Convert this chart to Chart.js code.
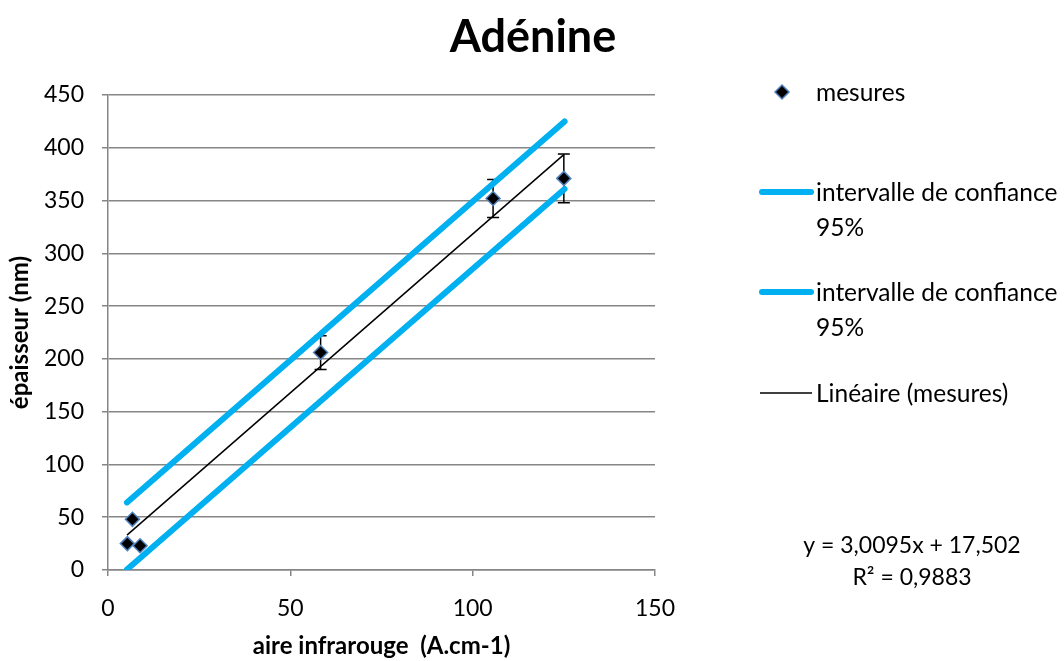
<!DOCTYPE html>
<html>
<head>
<meta charset="utf-8">
<script src="https://cdn.jsdelivr.net/npm/chart.js@4"></script>
<style>
  html, body { margin: 0; background: #fff; }
</style>
</head>
<body>
<canvas id="chart" width="1064" height="661"></canvas>
<script>
// valeurs
const mesuresX = [5.3, 6.7, 8.8, 58.3, 105.6, 125.0];
const mesuresY = [25, 48, 23, 206, 352, 371];
const erreurs = [0, 0, 0, 16, 18, 23];

const icHautX = [5.2, 125.2];
const icHautY = [64, 425];
const icBasX = [5.2, 125.2];
const icBasY = [0.5, 361];

const lineaireX = [5.2, 125.0];
const lineaireY = [33, 393.5];

const xTicks = [0, 50, 100, 150];
const yTicks = [0, 50, 100, 150, 200, 250, 300, 350, 400, 450];

const titre = 'Adénine';
const legendes = ['mesures', 'intervalle de confiance 95%', 'intervalle de confiance 95%', 'Linéaire (mesures)'];
const equation = 'y = 3,0095x + 17,502';
const r2 = 'R² = 0,9883';

const BLEU = '#00b0f0';
const GRIS = '#868686';
const FONT = 'Lato, Carlito, Calibri, sans-serif';

Chart.defaults.font.family = FONT;
Chart.defaults.color = '#000';

const pts = (xs, ys) => xs.map((x, i) => ({ x: x, y: ys[i] }));

// barres d'erreur verticales
const errorBars = {
  id: 'errorBars',
  beforeDatasetsDraw(chart) {
    const ctx = chart.ctx;
    const xs = chart.scales.x, ys = chart.scales.y;
    ctx.save();
    ctx.strokeStyle = '#000';
    ctx.lineWidth = 1.5;
    mesuresX.forEach((x, i) => {
      if (!erreurs[i]) return;
      const px = xs.getPixelForValue(x);
      const top = ys.getPixelForValue(mesuresY[i] + erreurs[i]);
      const bot = ys.getPixelForValue(mesuresY[i] - erreurs[i]);
      ctx.beginPath();
      ctx.moveTo(px, top); ctx.lineTo(px, bot);
      ctx.moveTo(px - 6, top); ctx.lineTo(px + 6, top);
      ctx.moveTo(px - 6, bot); ctx.lineTo(px + 6, bot);
      ctx.stroke();
    });
    ctx.restore();
  }
};

// titre, légende et équation
const decor = {
  id: 'decor',
  afterDraw(chart) {
    const ctx = chart.ctx;
    ctx.save();
    ctx.fillStyle = '#000';
    ctx.textBaseline = 'middle';
    ctx.textAlign = 'center';
    ctx.font = 'bold 45px ' + FONT;
    ctx.fillText(titre, 533, 37);

    ctx.font = '24.5px ' + FONT;
    ctx.textAlign = 'left';
    // mesures
    ctx.beginPath();
    ctx.moveTo(782, 85); ctx.lineTo(789, 92); ctx.lineTo(782, 99); ctx.lineTo(775, 92); ctx.closePath();
    ctx.fillStyle = '#000'; ctx.fill();
    ctx.strokeStyle = '#4f81bd'; ctx.lineWidth = 1.5; ctx.stroke();
    ctx.fillText(legendes[0], 816, 93);
    // intervalles
    [192, 292].forEach((y, k) => {
      ctx.beginPath();
      ctx.strokeStyle = BLEU; ctx.lineWidth = 6; ctx.lineCap = 'round';
      ctx.moveTo(762, y); ctx.lineTo(811, y); ctx.stroke();
      ctx.fillText('intervalle de confiance', 816, y + 1);
      ctx.fillText('95%', 816, y + 36);
    });
    // linéaire
    ctx.beginPath();
    ctx.strokeStyle = '#000'; ctx.lineWidth = 1.5; ctx.lineCap = 'butt';
    ctx.moveTo(760, 393); ctx.lineTo(812, 393); ctx.stroke();
    ctx.fillText(legendes[3], 816, 394);

    ctx.font = '23px ' + FONT;
    ctx.textAlign = 'center';
    ctx.fillText(equation, 912, 546);
    ctx.fillText(r2, 912, 578);
    ctx.restore();
  }
};

new Chart(document.getElementById('chart').getContext('2d'), {
  type: 'scatter',
  data: {
    datasets: [
      {
        label: legendes[0],
        data: pts(mesuresX, mesuresY),
        pointStyle: 'rectRot',
        pointRadius: 7,
        backgroundColor: '#000',
        borderColor: '#4f81bd',
        borderWidth: 1.5,
        showLine: false,
        order: 0
      },
      {
        label: legendes[1],
        data: pts(icHautX, icHautY),
        showLine: true,
        borderColor: BLEU,
        borderWidth: 6,
        borderCapStyle: 'round',
        pointRadius: 0,
        order: 2
      },
      {
        label: legendes[2],
        data: pts(icBasX, icBasY),
        showLine: true,
        borderColor: BLEU,
        borderWidth: 6,
        borderCapStyle: 'round',
        pointRadius: 0,
        order: 2
      },
      {
        label: legendes[3],
        data: pts(lineaireX, lineaireY),
        showLine: true,
        borderColor: '#000',
        borderWidth: 1.5,
        pointRadius: 0,
        order: 1
      }
    ]
  },
  options: {
    responsive: false,
    animation: false,
    layout: { padding: { top: 95, right: 409, bottom: 0, left: 0 } },
    plugins: {
      legend: { display: false },
      tooltip: { enabled: false }
    },
    scales: {
      x: {
        type: 'linear',
        min: 0, max: 150,
        afterFit(scale) { scale.height = 91; },
        afterBuildTicks(scale) { scale.ticks = xTicks.map(v => ({ value: v })); },
        ticks: { font: { size: 23 }, padding: 19 },
        grid: { drawOnChartArea: false, drawTicks: true, tickLength: 6, color: GRIS, lineWidth: 1.5 },
        border: { color: GRIS, width: 1.5 },
        title: { display: true, text: 'aire infrarouge  (A.cm-1)', font: { size: 24, weight: 'bold' }, padding: { top: 0, bottom: 0 } }
      },
      y: {
        min: 0, max: 450,
        afterFit(scale) { scale.width = 108; },
        afterBuildTicks(scale) { scale.ticks = yTicks.map(v => ({ value: v })); },
        ticks: { font: { size: 23 }, padding: 18 },
        grid: { drawTicks: true, tickLength: 6, color: GRIS, lineWidth: 1.5 },
        border: { color: GRIS, width: 1.5 },
        title: { display: true, text: 'épaisseur (nm)', font: { size: 24, weight: 'bold' }, padding: { top: 6, bottom: 0 } }
      }
    }
  },
  plugins: [errorBars, decor]
});
</script>
</body>
</html>
